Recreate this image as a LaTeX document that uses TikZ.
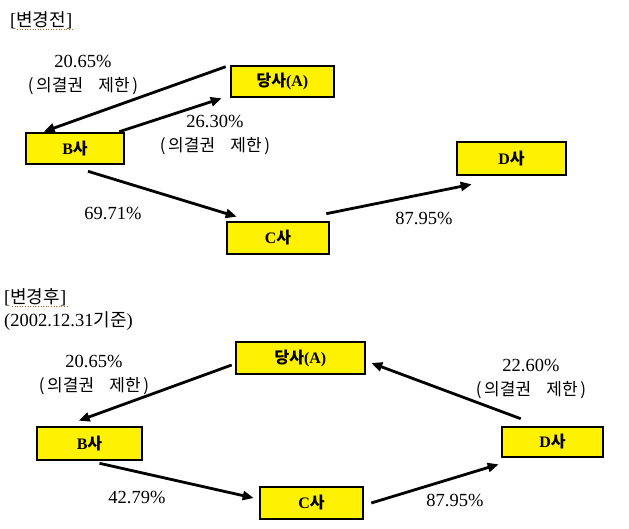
\documentclass[tikz,border=0pt]{standalone}
\usepackage{fontspec}
\setmainfont{Liberation Serif}
\newfontfamily\kr{Noto Sans CJK KR}
\usetikzlibrary{arrows.meta}
\tikzset{
  box/.style={draw, line width=2.6pt, fill=yellow, inner sep=0pt, font=\fontsize{16}{18}\selectfont\bfseries},
  arr/.style={line width=2.8pt, -{Triangle[length=11pt,width=9pt]}},
  lbl/.style={inner sep=0pt, align=center, font=\fontsize{18.5}{24}\selectfont},
  ttl/.style={inner sep=0pt, anchor=west, align=left, font=\fontsize{18.5}{23}\selectfont},
  sq/.style={draw=orange!80!black, line width=0.6pt, dotted}
}
\newcommand{\vr}{{\kr\fontsize{17}{19}\selectfont (\hspace{0.15em}의결권\hspace{0.9em}제한\hspace{0.15em})}}
\newcommand{\krt}[1]{{\kr\fontsize{18}{20}\selectfont #1}}
\begin{document}
\begin{tikzpicture}[x=1pt,y=-1pt]
\useasboundingbox (0,0) rectangle (629,529);
% ---- before ----
\node[ttl] (t1) at (10,20) {[\krt{변경전}]};
\draw[sq] (17,29) -- (72,29);
\node[box, minimum width=103pt, minimum height=31pt] (A1) at (282.5,81.5) {{\kr 당사}(A)};
\node[box, minimum width=98pt, minimum height=31pt] (B1) at (75,148.5) {B{\kr 사}};
\node[box, minimum width=109pt, minimum height=33pt] (D1) at (511.5,158.5) {D{\kr 사}};
\node[box, minimum width=102pt, minimum height=32pt] (C1) at (278,238) {C{\kr 사}};
\draw[arr] ([xshift=-4pt,yshift=-2pt]A1.north west) -- ([xshift=19pt]B1.north west);
\draw[arr] ([xshift=-6pt]B1.north east) -- ([xshift=-8pt]A1.south west);
\draw[arr] ([xshift=13pt,yshift=-6pt]B1.south) -- ([xshift=11pt,yshift=4pt]C1.north west);
\draw[arr] ([xshift=-4pt,yshift=7pt]C1.north east) -- ([xshift=16pt,yshift=-8pt]D1.south west);
\node[lbl] (l1) at (83,75) {20.65\%\\\vr};
\node[lbl] (l2) at (215,135) {26.30\%\\\vr};
\node[lbl] (l3) at (113,213) {69.71\%};
\node[lbl] (l4) at (424,218) {87.95\%};
% ---- after ----
\node[ttl] (t2) at (4,309) {[\krt{변경후}]\\(2002.12.31\krt{기준})};
\draw[sq] (12,306) -- (68,306);
\node[box, minimum width=129pt, minimum height=32pt] (A2) at (300.5,358) {{\kr 당사}(A)};
\node[box, minimum width=105pt, minimum height=33pt] (B2) at (89.5,443.5) {B{\kr 사}};
\node[box, minimum width=103pt, minimum height=32pt] (C2) at (311.5,503) {C{\kr 사}};
\node[box, minimum width=101pt, minimum height=30pt] (D2) at (552.5,442) {D{\kr 사}};
\draw[arr] ([xshift=-3pt,yshift=-7pt]A2.west) -- ([xshift=43pt,yshift=5pt]B2.north west);
\draw[arr] ([xshift=10pt,yshift=-2pt]B2.south) -- ([xshift=-5pt,yshift=5pt]C2.west);
\draw[arr] ([xshift=7pt]C2.east) -- ([xshift=-2pt,yshift=-6pt]D2.south west);
\draw[arr] ([xshift=20pt,yshift=7pt]D2.north west) -- ([xshift=5pt,yshift=-5pt]A2.east);
\node[lbl] (l5) at (94,375) {20.65\%\\\vr};
\node[lbl] (l6) at (531,379) {22.60\%\\\vr};
\node[lbl] (l7) at (137,497) {42.79\%};
\node[lbl] (l8) at (455,500) {87.95\%};
\end{tikzpicture}
\end{document}
